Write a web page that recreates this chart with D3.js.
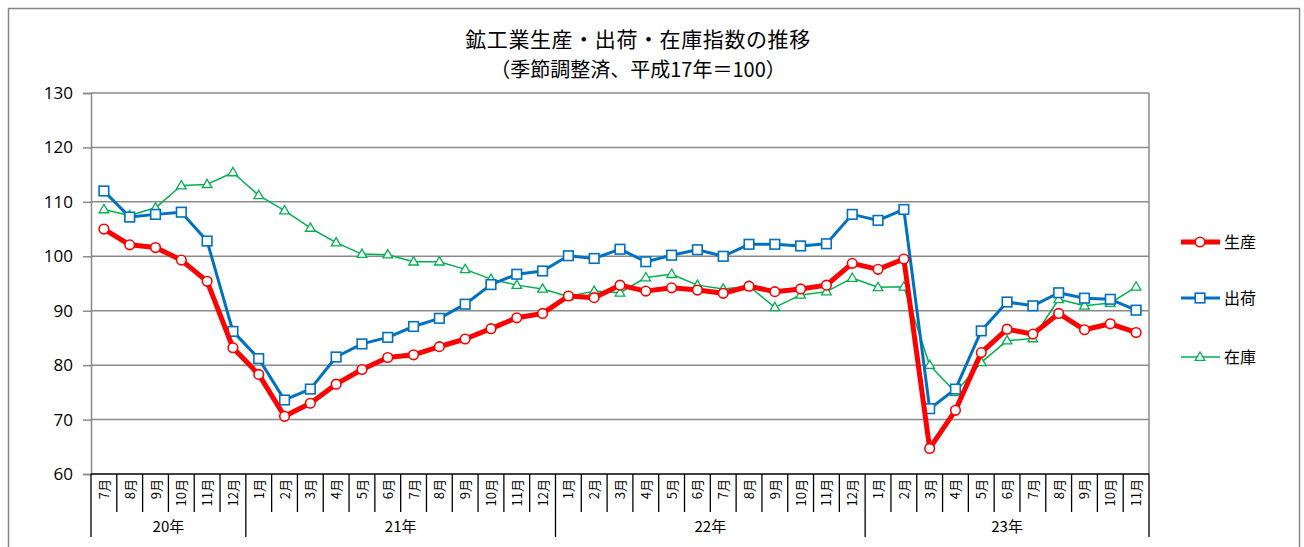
<!DOCTYPE html>
<html>
<head>
<meta charset="utf-8">
<script src="https://cdn.jsdelivr.net/npm/d3@7"></script>
<style>
  body { margin: 0; background: #fff; }
  text { font-family: "Noto Sans CJK JP", "Noto Sans", sans-serif; fill: #000; }
</style>
</head>
<body>
<svg id="chart" width="1304" height="547"></svg>
<script>
// month labels on the x axis (20年7月 .. 23年11月)
var monthLabels = [
  "7月","8月","9月","10月","11月","12月",
  "1月","2月","3月","4月","5月","6月","7月","8月","9月","10月","11月","12月",
  "1月","2月","3月","4月","5月","6月","7月","8月","9月","10月","11月","12月",
  "1月","2月","3月","4月","5月","6月","7月","8月","9月","10月","11月"
];
// year groups under the months
var yearLabels = ["20年", "21年", "22年", "23年"];
var yearCounts = [6, 12, 12, 11];

// index values
var production = [105.0,102.1,101.6,99.3,95.4,83.2,
  78.3,70.6,73.0,76.5,79.2,81.4,81.9,83.4,84.8,86.7,88.7,89.5,
  92.7,92.4,94.7,93.6,94.2,93.8,93.2,94.5,93.5,94.0,94.7,98.7,
  97.6,99.5,64.7,71.7,82.3,86.6,85.7,89.5,86.5,87.6,86.0];
var shipments = [112.0,107.2,107.7,108.1,102.8,86.2,
  81.2,73.6,75.6,81.5,83.9,85.1,87.1,88.6,91.2,94.8,96.7,97.3,
  100.1,99.6,101.3,99.0,100.2,101.2,100.0,102.2,102.2,101.9,102.3,107.7,
  106.6,108.6,72.0,75.6,86.3,91.6,90.9,93.3,92.3,92.1,90.1];
var inventory = [108.6,107.5,108.9,113.0,113.2,115.4,
  111.2,108.4,105.2,102.5,100.4,100.3,99.0,99.0,97.6,95.8,94.7,94.0,
  92.6,93.6,93.3,96.1,96.7,94.7,94.0,94.5,90.6,92.9,93.5,96.0,
  94.3,94.4,80.0,75.0,80.5,84.5,84.9,92.1,90.9,91.4,94.4];

var seriesNames = ["生産", "出荷", "在庫"];
var yTicks = [60, 70, 80, 90, 100, 110, 120, 130];

var svg = d3.select("#chart");

// plot box
var plotLeft = 91, plotRight = 1149, plotTop = 93, plotBottom = 474;

// outer frame
svg.append("rect")
  .attr("x", 8.5).attr("y", 8.5)
  .attr("width", 1291).attr("height", 600)
  .attr("fill", "none").attr("stroke", "#878787").attr("stroke-width", 1.5);

// title
svg.append("text").attr("x", 638).attr("y", 47)
  .attr("text-anchor", "middle").style("font-size", "21px").style("letter-spacing", "0.6px")
  .text("鉱工業生産・出荷・在庫指数の推移");
svg.append("text").attr("x", 638).attr("y", 77)
  .attr("text-anchor", "middle").style("font-size", "20px")
  .text("（季節調整済、平成17年＝100）");

var x = d3.scaleBand().domain(d3.range(monthLabels.length)).range([plotLeft, plotRight]).padding(0);
var y = d3.scaleLinear().domain([60, 130]).range([plotBottom, plotTop]);
var cx = function(i) { return x(i) + x.bandwidth() / 2; };

// grid lines
svg.append("g").selectAll("line").data(yTicks.slice(1)).join("line")
  .attr("x1", plotLeft).attr("x2", plotRight)
  .attr("y1", function(d) { return y(d); }).attr("y2", function(d) { return y(d); })
  .attr("stroke", "#8a8a8a").attr("stroke-width", 1.5);

// right edge of plot
svg.append("line").attr("x1", plotRight).attr("x2", plotRight).attr("y1", plotTop).attr("y2", plotBottom)
  .attr("stroke", "#8a8a8a").attr("stroke-width", 1.5);

// y axis
var yAxis = svg.append("g").attr("transform", "translate(" + plotLeft + ",0)")
  .call(d3.axisLeft(y).tickValues(yTicks).tickSize(8).tickPadding(10));
yAxis.select(".domain").attr("stroke", "#8a8a8a").attr("stroke-width", 1.5);
yAxis.selectAll(".tick line").attr("stroke", "#8a8a8a").attr("stroke-width", 1.5);
yAxis.selectAll(".tick text").style("font-size", "17px")
  .style("font-family", "'Open Sans', 'Noto Sans', sans-serif").attr("fill", "#000");

// x axis line
svg.append("line").attr("x1", plotLeft).attr("x2", plotRight).attr("y1", plotBottom).attr("y2", plotBottom)
  .attr("stroke", "#000").attr("stroke-width", 1.5);

// year boundaries
var yearStarts = [0];
yearCounts.forEach(function(c, i) { yearStarts.push(yearStarts[i] + c); });
var isYearEdge = function(i) { return yearStarts.indexOf(i) !== -1; };
var edgeX = function(i) { return i < monthLabels.length ? x(i) : plotRight; };

svg.append("g").selectAll("line").data(d3.range(monthLabels.length + 1)).join("line")
  .attr("x1", edgeX).attr("x2", edgeX)
  .attr("y1", plotBottom)
  .attr("y2", function(i) { return isYearEdge(i) ? 537 : 512; })
  .attr("stroke", "#000").attr("stroke-width", 1.3);

// month labels (rotated)
svg.append("g").selectAll("text").data(monthLabels).join("text")
  .attr("transform", function(d, i) { return "translate(" + (cx(i) + 5) + ",479) rotate(-90)"; })
  .attr("text-anchor", "end")
  .style("font-size", "13px")
  .text(function(d) { return d; });

// year labels
svg.append("g").selectAll("text").data(yearLabels).join("text")
  .attr("x", function(d, i) { return (edgeX(yearStarts[i]) + edgeX(yearStarts[i + 1])) / 2; })
  .attr("y", 532)
  .attr("text-anchor", "middle")
  .style("font-size", "15px")
  .text(function(d) { return d; });

// series
var line = d3.line().x(function(d, i) { return cx(i); }).y(function(d) { return y(d); });

function drawMarker(g, shape, color, px, py) {
  if (shape === "circle") {
    g.append("circle").attr("cx", px).attr("cy", py).attr("r", 4.8)
      .attr("fill", "#fff").attr("stroke", color).attr("stroke-width", 1.6);
  } else if (shape === "square") {
    g.append("rect").attr("x", px - 4.8).attr("y", py - 4.8).attr("width", 9.6).attr("height", 9.6)
      .attr("fill", "#fff").attr("stroke", color).attr("stroke-width", 1.6);
  } else {
    g.append("path").attr("d", d3.symbol().type(d3.symbolTriangle).size(40)())
      .attr("transform", "translate(" + px + "," + (py + 0.5) + ")")
      .attr("fill", "#fff").attr("stroke", color).attr("stroke-width", 1.3);
  }
}

var series = [
  { name: seriesNames[2], values: inventory, color: "#00b050", width: 1.5, shape: "triangle" },
  { name: seriesNames[1], values: shipments, color: "#0070c0", width: 3, shape: "square" },
  { name: seriesNames[0], values: production, color: "#ff0000", width: 5, shape: "circle" }
];

series.forEach(function(s) {
  var g = svg.append("g");
  g.append("path").datum(s.values).attr("d", line)
    .attr("fill", "none").attr("stroke", s.color).attr("stroke-width", s.width)
    .attr("stroke-linejoin", "round");
  s.values.forEach(function(v, i) { drawMarker(g, s.shape, s.color, cx(i), y(v)); });
});

// legend
var legendY = { "生産": 242, "出荷": 298, "在庫": 357 };
series.forEach(function(s) {
  var g = svg.append("g");
  var ly = legendY[s.name];
  g.append("line").attr("x1", 1181).attr("x2", 1220).attr("y1", ly).attr("y2", ly)
    .attr("stroke", s.color).attr("stroke-width", s.width);
  drawMarker(g, s.shape, s.color, 1200, ly);
  g.append("text").attr("x", 1224).attr("y", ly + 6).style("font-size", "16px").text(s.name);
});
</script>
</body>
</html>
